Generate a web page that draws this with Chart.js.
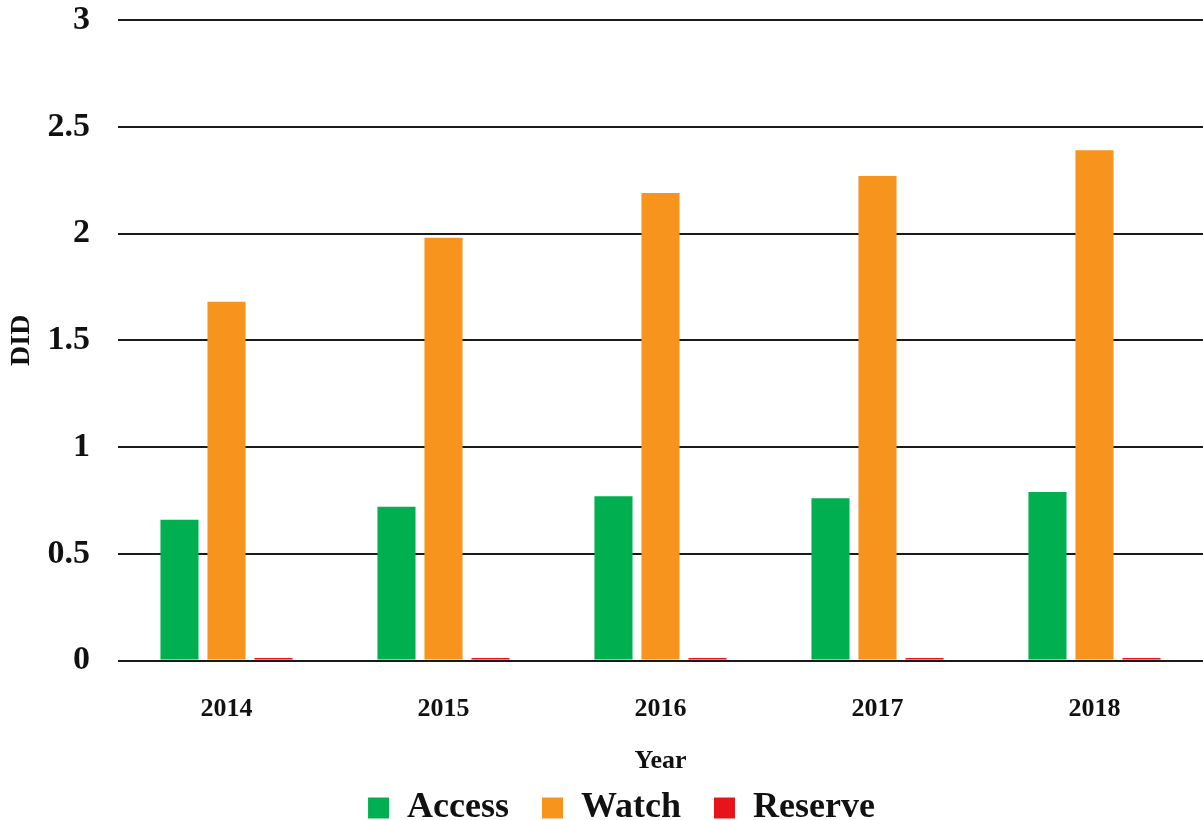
<!DOCTYPE html>
<html>
<head>
<meta charset="utf-8">
<script src="https://cdn.jsdelivr.net/npm/chart.js@4"></script>
<style>
  html, body { margin: 0; padding: 0; background: #fff; }
  #wrap { width: 1203px; height: 820px; }
</style>
</head>
<body>
<div id="wrap"><canvas id="didChart" width="1203" height="820"></canvas></div>
<script>
// values
const years = ['2014', '2015', '2016', '2017', '2018'];
const access = [0.66, 0.72, 0.77, 0.76, 0.79];
const watch = [1.68, 1.98, 2.19, 2.27, 2.39];
const reserve = [0.012, 0.012, 0.012, 0.012, 0.012];
const yTicks = [0, 0.5, 1, 1.5, 2, 2.5, 3];

const serif = 'Liberation Serif';

new Chart(document.getElementById('didChart').getContext('2d'), {
    type: 'bar',
    data: {
        labels: years,
        datasets: [
            { label: 'Access', data: access, backgroundColor: '#00B050' },
            { label: 'Watch', data: watch, backgroundColor: '#F7941D' },
            { label: 'Reserve', data: reserve, backgroundColor: '#E8141C' }
        ]
    },
    options: {
        responsive: false,
        animation: false,
        categoryPercentage: 0.65,
        barPercentage: 0.81,
        // left padding pushes the legend centre right; y title pulled back with negative padding
        layout: { padding: { top: 0, right: 0, left: 40, bottom: -16 } },
        plugins: {
            tooltip: { enabled: false },
            legend: {
                position: 'bottom',
                labels: {
                    color: '#111',
                    font: { family: serif, size: 36, weight: 'bold' },
                    boxWidth: 21,
                    boxHeight: 21,
                    padding: 33
                }
            }
        },
        scales: {
            x: {
                grid: { display: false, drawTicks: false },
                border: { display: false },
                ticks: {
                    color: '#111',
                    padding: 33,
                    font: { family: serif, size: 26, weight: 'bold' }
                },
                title: {
                    display: true,
                    text: 'Year',
                    color: '#111',
                    padding: { top: -12, bottom: -20 },
                    font: { family: serif, size: 26, weight: 'bold' }
                }
            },
            y: {
                min: 0,
                max: 3,
                afterBuildTicks: (axis) => { axis.ticks = yTicks.map(v => ({ value: v })); },
                afterFit: (axis) => {
                    axis.width = 78;
                    axis.paddingTop = 20;
                    axis.paddingBottom = 0;
                },
                grid: { color: '#1a1a1a', lineWidth: 2, drawTicks: false },
                border: { display: false },
                ticks: {
                    color: '#111',
                    padding: 28,
                    font: { family: serif, size: 34, weight: 'bold' },
                    callback: (v) => String(v)
                },
                title: {
                    display: true,
                    text: 'DID',
                    color: '#111',
                    padding: { top: -35, bottom: 6 },
                    font: { family: serif, size: 28, weight: 'bold' }
                }
            }
        }
    }
});
</script>
</body>
</html>
